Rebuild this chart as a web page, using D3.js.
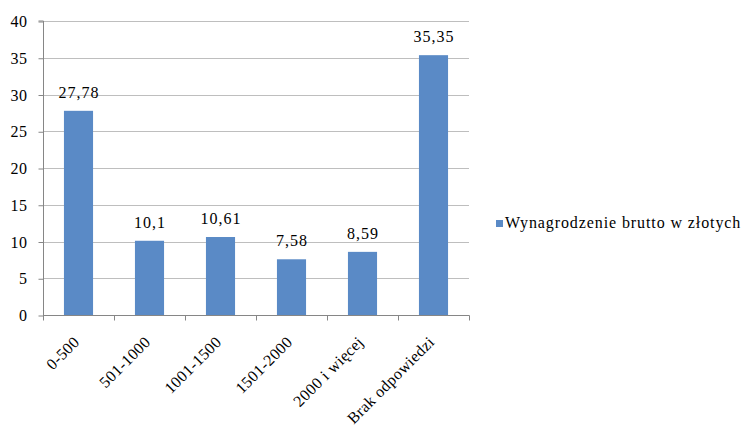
<!DOCTYPE html>
<html><head><meta charset="utf-8">
<script src="https://cdn.jsdelivr.net/npm/d3@7"></script>
<style>body{margin:0;background:#fff}svg{display:block}</style>
</head><body><svg id="c" width="746" height="427" font-family="Liberation Serif, Tinos, Times New Roman, Times, serif"></svg>
<script>
const categories = ["0-500","501-1000","1001-1500","1501-2000","2000 i więcej","Brak odpowiedzi"];
const values = [27.78,10.1,10.61,7.58,8.59,35.35];
const valueLabels = ["27,78","10,1","10,61","7,58","8,59","35,35"];
const yTicks = [0,5,10,15,20,25,30,35,40];
const seriesName = "Wynagrodzenie brutto w złotych";

(function(){
const FONT = '"Liberation Serif", Tinos, "Times New Roman", Times, serif';
const svg = d3.select("#c");
const pl = 43, pr = 469, pt = 21, pb = 315;
const x = d3.scaleBand().domain(categories).range([pl, pr]).paddingInner(0.59).paddingOuter(0.295);
const xb = d3.scaleBand().domain(categories).range([pl, pr]);
const y = d3.scaleLinear().domain([0,40]).range([pb, pt]);
const color = "#5a8ac6";

function styleText(sel, ls){
  return sel.attr("font-family", FONT).style("font-family", FONT).style("font-size", "16px").attr("font-size", 16)
    .style("letter-spacing", (ls==null?1:ls)+"px").attr("fill", "#000");
}

svg.append("g").selectAll("line").data(yTicks.filter(d=>d>0)).join("line")
  .attr("x1", pl).attr("x2", pr).attr("y1", d=>Math.round(y(d))+0.5).attr("y2", d=>Math.round(y(d))+0.5)
  .attr("stroke", "#bebebe").attr("stroke-width", 1);

svg.append("g").selectAll("rect").data(values).join("rect")
  .attr("x", (d,i)=>x(categories[i])).attr("width", x.bandwidth())
  .attr("y", d=>y(d)).attr("height", d=>pb - y(d))
  .attr("fill", color);

const yAxis = d3.axisLeft(y).tickValues(yTicks).tickSize(5).tickPadding(11).tickFormat(d3.format("d"));
const gy = svg.append("g").attr("transform", `translate(${pl+0.5},0.5)`).call(yAxis);
gy.attr("font-family", FONT).attr("font-size", 16);
gy.select(".domain").attr("stroke", "#868686").attr("d", `M-5,${pt-0.5}H0V${pb}`);
gy.selectAll(".tick line").attr("stroke", "#868686");
styleText(gy.selectAll(".tick text"), 0.5);

const xAxis = d3.axisBottom(xb).tickSize(0).tickFormat("");
const gx = svg.append("g").attr("transform", `translate(0,${pb+0.5})`).call(xAxis);
gx.attr("font-family", FONT);
gx.select(".domain").attr("stroke", "#868686").attr("d", `M${pl},0H${pr+0.5}`);
gx.selectAll(".tick").remove();
const bounds = categories.map(c=>xb(c)).concat([pr]);
gx.selectAll("line.sep").data(bounds).join("line").attr("class","sep")
  .attr("x1", d=>Math.round(d)+0.5).attr("x2", d=>Math.round(d)+0.5).attr("y1",0).attr("y2",5)
  .attr("stroke", "#868686");

styleText(svg.append("g").selectAll("text").data(categories).join("text")
  .attr("transform", d=>`translate(${xb(d)+xb.bandwidth()/2+2},${pb+28}) rotate(-45)`)
  .attr("text-anchor", "end")
  .text(d=>d), 0.4);

styleText(svg.append("g").selectAll("text").data(values).join("text")
  .attr("x", (d,i)=>x(categories[i]) + x.bandwidth()/2 + 0.5)
  .attr("y", d=>y(d) - 13)
  .attr("text-anchor", "middle")
  .text((d,i)=>valueLabels[i]), 1);

const lg = svg.append("g").attr("transform", "translate(496,220)");
lg.append("rect").attr("width", 7).attr("height", 7).attr("fill", color);
styleText(lg.append("text").attr("x", 9).attr("y", 8).text(seriesName), 0.9);
})();
</script></body></html>
